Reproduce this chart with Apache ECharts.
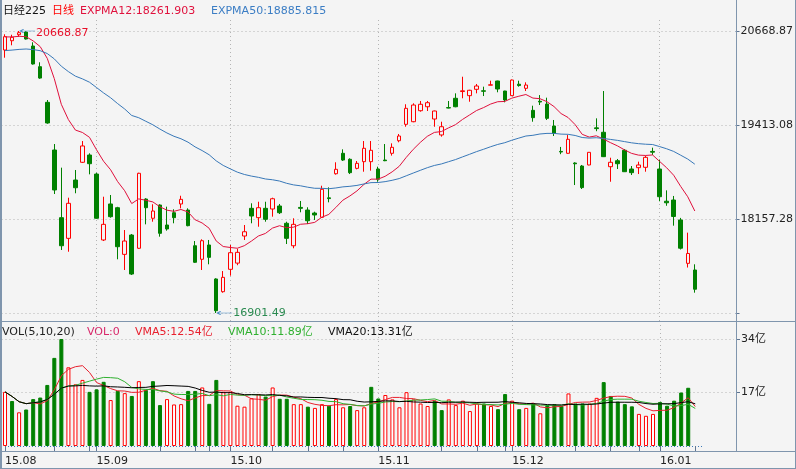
<!DOCTYPE html>
<html><head><meta charset="utf-8">
<script src="https://cdn.jsdelivr.net/npm/echarts@6/dist/echarts.min.js"></script>
<style>html,body{margin:0;padding:0;background:#f4f4f4;}#c{width:796px;height:469px;}</style>
</head><body><div id="c"></div>
<script>
const dates = [
'2015-08-13','2015-08-14','2015-08-17','2015-08-18','2015-08-19','2015-08-20','2015-08-21','2015-08-24','2015-08-25','2015-08-26','2015-08-27','2015-08-28','2015-08-31',
'2015-09-01','2015-09-02','2015-09-03','2015-09-04','2015-09-07','2015-09-08','2015-09-09','2015-09-10','2015-09-11','2015-09-14','2015-09-15','2015-09-16','2015-09-17','2015-09-18','2015-09-24','2015-09-25','2015-09-28','2015-09-29','2015-09-30',
'2015-10-01','2015-10-02','2015-10-05','2015-10-06','2015-10-07','2015-10-08','2015-10-09','2015-10-13','2015-10-14','2015-10-15','2015-10-16','2015-10-19','2015-10-20','2015-10-21','2015-10-22','2015-10-23','2015-10-26','2015-10-27','2015-10-28','2015-10-29','2015-10-30',
'2015-11-02','2015-11-04','2015-11-05','2015-11-06','2015-11-09','2015-11-10','2015-11-11','2015-11-12','2015-11-13','2015-11-16','2015-11-17','2015-11-18','2015-11-19','2015-11-20','2015-11-24','2015-11-25','2015-11-26','2015-11-27','2015-11-30',
'2015-12-01','2015-12-02','2015-12-03','2015-12-04','2015-12-07','2015-12-08','2015-12-09','2015-12-10','2015-12-11','2015-12-14','2015-12-15','2015-12-16','2015-12-17','2015-12-18','2015-12-21','2015-12-22','2015-12-24','2015-12-25','2015-12-28','2015-12-29','2015-12-30',
'2016-01-04','2016-01-05','2016-01-06','2016-01-07','2016-01-08','2016-01-12'];
const open = [20415,20539,20619,20655,20468,20192,19716,19079,18175,17899,18678,18915,19012,
18758,17877,18358,18308,17685,17943,17766,18424,18167,18344,18077,18241,18358,18277,17800,17619,17810,17356,17186,
17485,17568,17930,18300,18175,18300,18291,18331,18100,17800,18312,18277,18237,18180,18440,18762,19035,18955,18834,18923,18923,
18825,18945,19035,19203,19422,19457,19604,19657,19493,19280,19645,19770,19860,19805,19890,19870,19945,20001,19867,
19805,19958,19903,19609,19730,19693,19400,19060,19035,18905,18865,18879,19375,19316,18856,18936,19075,18825,18843,18848,19060,
18825,18395,18411,18144,17565,17476];
const close = [20593,20585,20646,20562,20228,20040,19440,18545,17800,18367,18575,19133,18896,
18167,18086,18188,17787,17863,17422,18768,18308,18264,17966,18024,18175,18420,18068,17579,17867,17645,16932,17378,
17707,17712,17987,18197,18308,18153,18428,18241,17899,18086,18300,18134,18211,18554,18430,18821,18945,18776,18901,19102,19075,
18688,18936,19115,19266,19636,19680,19690,19711,19600,19390,19640,19657,19870,19877,19934,19864,19950,19894,19747,
20014,19940,19947,19511,19720,19502,19302,19052,19222,18895,18577,19048,19365,18990,18915,18896,18789,18776,18879,18981,19050,
18455,18374,18191,17767,17697,17219];
const low = [20312,20478,20593,20555,20220,20030,19430,18491,17743,17720,18501,18905,18754,
18160,17863,18175,17619,17476,17409,17760,18086,18121,17921,18001,18100,18300,18060,17570,17476,17552,16901.49,17173,
17400,17540,17877,18100,18054,18121,18188,18224,17823,17766,18247,18090,18144,18175,18380,18750,18932,18758,18821,18789,18803,
18655,18930,19004,19182,19390,19450,19591,19600,19390,19257,19636,19650,19770,19724,19836,19800,19945,19850,19716,
19800,19925,19867,19457,19680,19480,19266,19023,19030,18611,18558,18875,19330,18985,18655,18825,18785,18745,18758,18789,19012,
18394,18334,18068,17750,17509,17173];
const high = [20625,20619,20668.87,20665,20518,20251,19747,19159,18843,18442,18812,19199,19035,
18775,18455,18478,18320,18010,17957,18775,18435,18354,18354,18322,18287,18468,18300,17863,17886,17877,17366,17462,
17810,17760,18077,18367,18388,18388,18442,18358,18121,18167,18398,18314,18255,18602,18580,18915,19088,18968,18932,19199,19199,
18856,19159,19168,19293,19690,19703,19734,19734,19605,19457,19734,19836,20058,19883,19961,19925,20005,20005,19870,
20020,20005,19983,19671,19813,19778,19480,19120,19279,18915,18879,19050,19502,19867,18976,18959,19092,18865,18923,19003,19110,
18951,18540,18465,18172,17975,17552];
const volume = [17.2,14.3,10.7,11.6,14.9,15.4,19.4,28.0,34.0,25.0,19.6,21.0,17.2,
18.0,20.4,14.6,17.5,16.8,15.9,20.6,17.8,20.6,13.0,14.9,13.2,13.3,17.5,17.5,18.6,13.4,21.0,17.2,
17.2,12.8,12.5,15.2,16.5,15.7,18.6,15.0,15.0,13.3,13.3,12.5,12.1,13.3,12.8,14.9,12.3,12.7,11.4,12.3,18.8,
15.1,16.2,14.8,12.3,17.1,14.8,13.5,12.7,14.4,11.4,14.8,13.0,14.4,11.1,13.5,13.5,12.7,11.7,16.5,
14.4,11.7,12.1,13.5,10.4,13.0,13.3,12.7,16.7,13.5,13.5,13.5,15.3,20.3,15.9,14.1,13.3,12.6,10.2,9.6,10.2,
14.0,12.8,14.4,17.0,18.5,0];
const priceTicks = [16901.49,18157.28,19413.08,20668.87];
const priceLabels = [18157.28,19413.08,20668.87];
const volTicks = [17,34];
const tickIdx = [0,7,12,13,22,27,29,32,38,43,48,53,62,67,71,72,81,86,90,93,98];
const monthIdx = [0,13,32,53,72,93];
const ema12Seed = 20590, ema50Seed = 20407;

const FF = '"DejaVu Sans","Noto Sans CJK SC",sans-serif';
const UP='#ff0000', DOWN='#008000', BG='#f4f4f4', GRIDC='#b4b4b4', FRAME='#7f95ad';

function ema(arr,n,seed){const k=2/(n+1);let e=seed;return arr.map((c,i)=>{if(i>0)e=e+k*(c-e);return +e.toFixed(2);});}
function sma(arr,n){return arr.map((_,i)=>{const s=arr.slice(Math.max(0,i-n+1),i+1);return +(s.reduce((a,b)=>a+b,0)/s.length).toFixed(3);});}

const cats = dates.concat(['p1','p2','p3','p4','p5']);
const kData = dates.map((d,i)=>[open[i],close[i],low[i],high[i]]);
const ema12 = ema(close,12,ema12Seed), ema50 = ema(close,50,ema50Seed);
const volData = volume.map((v,i)=>{const up = i===0 || close[i]>=close[i-1];
  return {value:v,itemStyle: up?{color:'#ffffff',borderColor:UP,borderWidth:v?1:0}:{color:DOWN,borderColor:DOWN,borderWidth:v?1:0}};});
const vma5=sma(volume,5), vma10=sma(volume,10), vma20=sma(volume,20);

const arrow='path://M0,4L4,0L5,1L2,4L5,7L4,8Z M1,3.5L16,3.5L16,4.5L1,4.5Z';
const gridLine={color:GRIDC,type:[1,3],width:1};

const chart = echarts.init(document.getElementById('c'),null,{renderer:'canvas'});
const txt=(x,y,t,c)=>({type:'text',x:x,y:y,silent:true,style:{text:t,fill:c,fontSize:11,fontFamily:FF,verticalAlign:'middle'}});
const ln=(x1,y1,x2,y2,w)=>({type:'line',silent:true,z:100,shape:{x1,y1,x2,y2},style:{stroke:FRAME,lineWidth:w||1}});

chart.setOption({
  animation:false,
  backgroundColor:BG,
  textStyle:{fontFamily:FF},
  grid:[{left:1.5,right:62,top:18,height:303},{left:1.5,right:62,top:322,height:124}],
  xAxis:[
    {type:'category',gridIndex:0,data:cats,boundaryGap:true,axisLine:{show:false},axisTick:{show:false},axisLabel:{show:false},splitLine:{show:false}},
    {type:'category',gridIndex:1,data:cats,boundaryGap:true,offset:5.5,axisLine:{show:false},
      axisTick:{show:true,alignWithLabel:true,length:5,interval:(i)=>tickIdx.includes(i),lineStyle:{color:'#5f7592'}},
      axisLabel:{interval:(i)=>monthIdx.includes(i),align:'left',margin:4,color:'#222',fontSize:11,fontFamily:FF,
        formatter:(v)=>v.slice(2,4)+'.'+v.slice(5,7)},splitLine:{show:false}}
  ],
  yAxis:[
    {type:'value',gridIndex:0,position:'right',offset:2,min:16794.61,max:20842.54,scale:true,
      axisLine:{show:false},splitLine:{show:false},
      axisTick:{show:true,length:4,customValues:priceTicks,lineStyle:{color:'#5f7592'}},
      axisLabel:{customValues:priceLabels,margin:5,color:'#222',fontSize:11,fontFamily:FF,formatter:(v)=>v.toFixed(2)}},
    {type:'value',gridIndex:1,position:'right',offset:2,min:0,max:39.4,
      axisLine:{show:false},splitLine:{show:false},
      axisTick:{show:true,length:4,customValues:volTicks,lineStyle:{color:'#5f7592'}},
      axisLabel:{customValues:volTicks,margin:5,color:'#222',fontSize:11,fontFamily:FF,formatter:(v)=>v+'亿'}}
  ],
  series:[
    {type:'line',xAxisIndex:0,yAxisIndex:0,data:[],z:0,silent:true,
      markLine:{z:0,silent:true,symbol:['none','none'],label:{show:false},lineStyle:gridLine,animation:false,
        data:priceTicks.map(v=>({yAxis:v})).concat(monthIdx.slice(1).map(i=>({xAxis:i})))}},
    {type:'line',xAxisIndex:1,yAxisIndex:1,data:[],z:0,silent:true,
      markLine:{z:0,silent:true,symbol:['none','none'],label:{show:false},lineStyle:gridLine,animation:false,
        data:volTicks.map(v=>({yAxis:v})).concat(monthIdx.slice(1).map(i=>({xAxis:i})))
          .concat([[{coord:[0,0],lineStyle:{color:'#3878b8',type:[1,2]}},{coord:[99,0]}]])}},
    {type:'candlestick',name:'日经225',xAxisIndex:0,yAxisIndex:0,data:kData,barWidth:4,z:2,
      itemStyle:{color:BG,color0:DOWN,borderColor:UP,borderColor0:DOWN,borderWidth:1},
      markPoint:{symbol:arrow,symbolSize:[16,8],symbolOffset:[8,0],symbolKeepAspect:true,animation:false,
        itemStyle:{color:'#4a8cc4'},
        data:[
          {type:'max',valueDim:'highest',label:{show:true,position:'right',distance:1,offset:[0,2],color:'#e8102a',fontSize:11,fontFamily:FF,formatter:(p)=>(+p.value).toFixed(2)}},
          {type:'min',valueDim:'lowest',label:{show:true,position:'right',distance:1,color:'#2a8a50',fontSize:11,fontFamily:FF,formatter:(p)=>(+p.value).toFixed(2)}}
        ]}},
    {type:'line',name:'EXPMA12',xAxisIndex:0,yAxisIndex:0,data:ema12,symbol:'none',z:3,lineStyle:{color:'#e0103c',width:1}},
    {type:'line',name:'EXPMA50',xAxisIndex:0,yAxisIndex:0,data:ema50,symbol:'none',z:3,lineStyle:{color:'#3878b8',width:1}},
    {type:'bar',name:'VOL',xAxisIndex:1,yAxisIndex:1,data:volData,barWidth:4,z:2},
    {type:'line',name:'VMA5',xAxisIndex:1,yAxisIndex:1,data:vma5,symbol:'none',z:3,lineStyle:{color:'#e8202e',width:1}},
    {type:'line',name:'VMA10',xAxisIndex:1,yAxisIndex:1,data:vma10,symbol:'none',z:3,lineStyle:{color:'#2fb02f',width:1}},
    {type:'line',name:'VMA20',xAxisIndex:1,yAxisIndex:1,data:vma20,symbol:'none',z:3,lineStyle:{color:'#000000',width:1}}
  ],
  graphic:[
    ln(1,0,1,469,2), ln(736.5,0,736.5,451.5), ln(795.5,0,795.5,469),
    ln(0,321.5,796,321.5), ln(0,451.5,796,451.5), ln(0,468.5,796,468.5),
    txt(3,11,'日经225','#111'), txt(52,11,'日线','#ff0000'),
    txt(80,11,'EXPMA12:18261.903','#e0103c'), txt(211,11,'EXPMA50:18885.815','#3b7dc4'),
    txt(2,332,'VOL(5,10,20)','#222'), txt(87,332,'VOL:0','#d8286a'),
    txt(135,332,'VMA5:12.54亿','#e8202e'), txt(228,332,'VMA10:11.89亿','#2fb02f'),
    txt(328,332,'VMA20:13.31亿','#111')
  ]
});
</script></body></html>
